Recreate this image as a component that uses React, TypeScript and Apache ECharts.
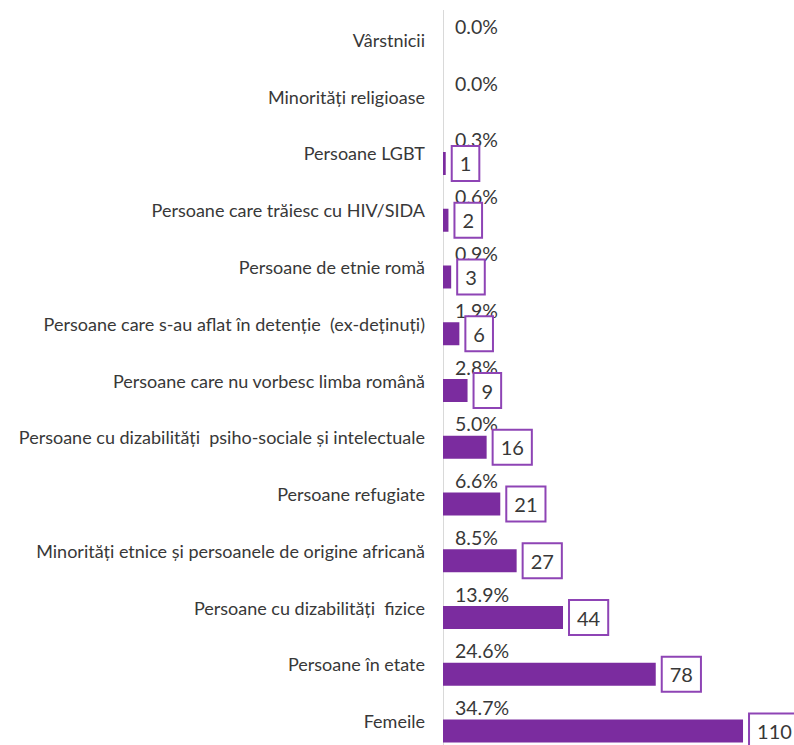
import React, { useEffect, useRef } from "react";
import * as echarts from "echarts";

const categories = [
  "Vârstnicii",
  "Minorități religioase",
  "Persoane LGBT",
  "Persoane care trăiesc cu HIV/SIDA",
  "Persoane de etnie romă",
  "Persoane care s-au aflat în detenție  (ex-deținuți)",
  "Persoane care nu vorbesc limba română",
  "Persoane cu dizabilități  psiho-sociale și intelectuale",
  "Persoane refugiate",
  "Minorități etnice și persoanele de origine africană",
  "Persoane cu dizabilități  fizice",
  "Persoane în etate",
  "Femeile",
];
const counts = [0, 0, 1, 2, 3, 6, 9, 16, 21, 27, 44, 78, 110];
const percents = ["0.0%", "0.0%", "0.3%", "0.6%", "0.9%", "1.9%", "2.8%", "5.0%", "6.6%", "8.5%", "13.9%", "24.6%", "34.7%"];

const PURPLE = "#7B2C9F";
const TEXT = "#383838";
const FONT = "Lato";

export default function App() {
  const ref = useRef<HTMLDivElement>(null);
  useEffect(() => {
    if (!ref.current) return;
    const chart = echarts.init(ref.current, undefined, { renderer: "svg" });
    chart.setOption({
      animation: false,
      backgroundColor: "#ffffff",
      grid: { left: 443, right: 23.7, top: 21.6, bottom: 0.6, containLabel: false },
      xAxis: {
        type: "value",
        min: 0,
        max: 120,
        show: false,
        splitLine: { show: false },
      },
      yAxis: {
        type: "category",
        inverse: true,
        data: categories,
        axisLine: { show: true, lineStyle: { color: "#d9d9d9", width: 1 } },
        axisTick: { show: false },
        axisLabel: {
          color: TEXT,
          fontFamily: FONT,
          fontSize: 18,
          lineHeight: 20,
          margin: 18,
          verticalAlign: "bottom",
        },
      },
      graphic: [
        {
          type: "line",
          shape: { x1: 443.5, y1: 10, x2: 443.5, y2: 22 },
          style: { stroke: "#d9d9d9", lineWidth: 1 },
        },
      ],
      series: [
        {
          type: "bar",
          data: counts,
          barWidth: 23,
          barGap: "-100%",
          itemStyle: { color: PURPLE },
          label: {
            show: true,
            position: [12, -22],
            color: TEXT,
            fontFamily: FONT,
            fontSize: 19.5,
            formatter: (p: any) => percents[p.dataIndex],
          },
          z: 2,
        },
        {
          type: "bar",
          data: counts.map((v) => ({ value: v, label: { show: v > 0 } })),
          barWidth: 23,
          barGap: "-100%",
          itemStyle: { color: "rgba(0,0,0,0)" },
          label: {
            show: true,
            position: "right",
            distance: 7,
            color: TEXT,
            fontFamily: FONT,
            fontSize: 20,
            lineHeight: 21,
            padding: [6, 7, 6, 7],
            backgroundColor: "#ffffff",
            borderColor: "#8E44B5",
            borderWidth: 2,
            formatter: (p: any) => String(counts[p.dataIndex]),
          },
          z: 3,
        },
      ],
    });
    return () => chart.dispose();
  }, []);
  return (
    <div style={{ position: "absolute", left: 0, top: 0, width: 794, height: 745, overflow: "hidden", background: "#fff" }}>
      <div ref={ref} style={{ width: 794, height: 760 }} />
    </div>
  );
}
